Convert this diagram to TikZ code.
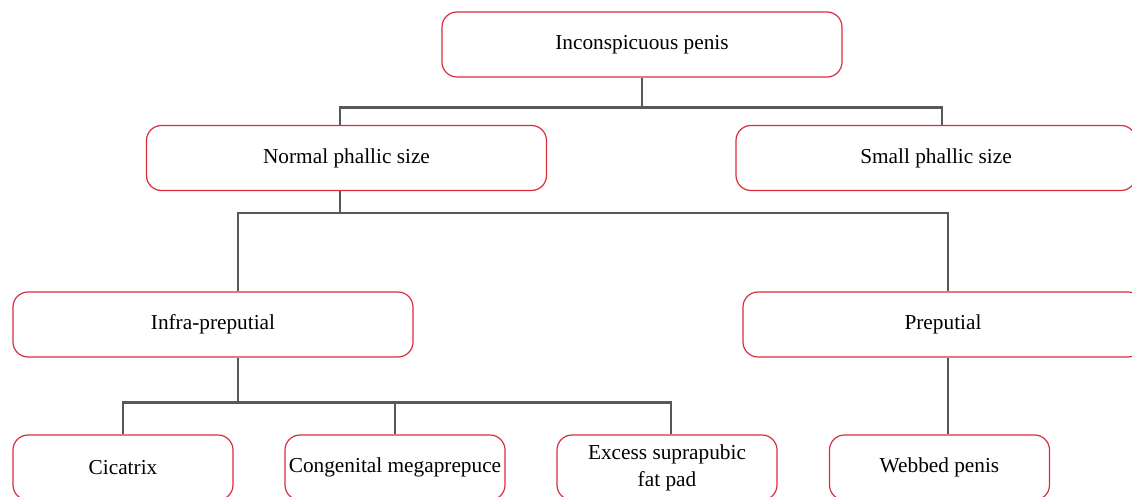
\documentclass[tikz,border=0pt]{standalone}
\usepackage{fontspec}
\setmainfont{Liberation Serif}
\usepackage{tikz}
\usetikzlibrary{positioning}
\definecolor{boxColor}{RGB}{218,45,60}
\definecolor{lineColor}{RGB}{88,88,88}
\tikzstyle{chart} = [x = 1pt, y = -1pt]
\tikzstyle{boxStyle} = [draw=boxColor, fill=white, line width=1.2pt, rounded corners = 15pt, minimum width=400pt, minimum height=65pt, inner sep=0pt, align=center, font=\fontsize{21.3}{27}\selectfont]
\tikzstyle{leafStyle} = [boxStyle, minimum width=220pt]
\tikzstyle{linkLine} = [color=lineColor, line width=2.4pt]
\newcommand{\busDrop}[2]{\draw [linkLine] (#1) -- (#1 |- #2);}

\begin{document}
\begin{tikzpicture}[chart]
  \useasboundingbox (0,0) rectangle (1132,497);

  % levels of the tree
  \node [boxStyle] (top) at (642,44.5) {Inconspicuous penis};
  \node [boxStyle] (normal) at (346.5,158) {Normal phallic size};
  \node [boxStyle] (small) at (936,158) {Small phallic size};
  \node [boxStyle] (infra) at (213,324.5) {Infra-preputial};
  \node [boxStyle] (preputial) at (943,324.5) {Preputial};
  \node [leafStyle] (cicatrix) at (123,467.5) {Cicatrix};
  \node [leafStyle] (megaprepuce) at (395,467.5) {Congenital megaprepuce};
  \node [leafStyle] (fatPad) at (667,467.5) {Excess suprapubic\\fat pad};
  \node [leafStyle] (webbed) at (939.5,467.5) {Webbed penis};

  % first split
  \draw [linkLine] (top.south) -- ++(0,30) coordinate (busTop);
  \draw [linkLine] ([xshift=-6.5pt]normal.north) |- (busTop) -| ([xshift=6pt]small.north);

  % second split
  \draw [linkLine] ([xshift=-6.5pt]normal.south) -- ++(0,22) coordinate (busNormal);
  \draw [linkLine] ([xshift=25pt]infra.north) |- (busNormal) -| ([xshift=5pt]preputial.north);

  % third split
  \draw [linkLine] ([xshift=25pt]infra.south) -- ++(0,45) coordinate (busInfra);
  \draw [linkLine] (cicatrix.north) |- (busInfra) -| ([xshift=4pt]fatPad.north);
  \draw [linkLine] (megaprepuce.north) -- (megaprepuce.north |- busInfra);

  % single child
  \draw [linkLine] ([xshift=5pt]preputial.south) -- ([xshift=8.5pt]webbed.north);
\end{tikzpicture}
\end{document}
